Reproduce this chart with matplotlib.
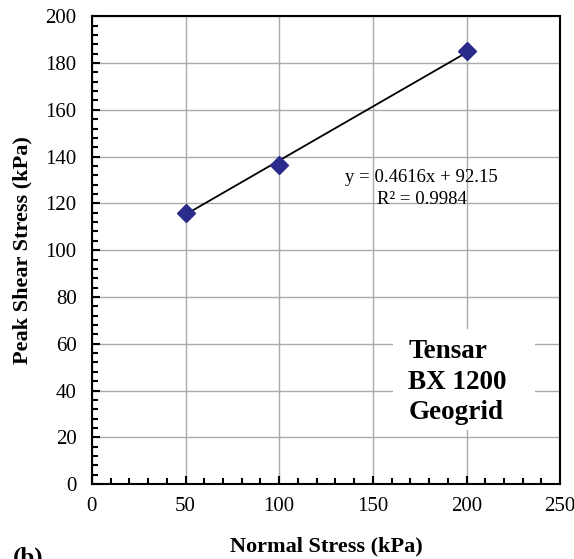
import matplotlib
matplotlib.use("Agg")
import matplotlib.pyplot as plt
import numpy as np
from matplotlib.ticker import MultipleLocator
from matplotlib.patches import Rectangle

normal_stress = [50, 100, 200]
peak_shear = [116, 136.5, 185]
slope = 0.4616
intercept = 92.15
x_ticks = [0, 50, 100, 150, 200, 250]
y_ticks = [0, 20, 40, 60, 80, 100, 120, 140, 160, 180, 200]

plt.rcParams['font.family'] = ['Liberation Serif', 'DejaVu Serif']

fig = plt.figure(figsize=(5.74, 5.59), dpi=100)
ax = fig.add_axes([0.160, 0.134, 0.816, 0.837])
ax.set_axisbelow(True)

ax.grid(True, color='#aaaaaa', linewidth=1.0, zorder=0)
xf = np.array([min(normal_stress), max(normal_stress)])
ax.plot(xf, slope * xf + intercept, color='black', linewidth=1.3, zorder=2)
ax.plot(normal_stress, peak_shear, linestyle='none', marker='D', markersize=9,
        color='#2b2b8c', markeredgecolor='#2b2b8c', zorder=3)

ax.set_xlim(0, 250)
ax.set_ylim(0, 200)
ax.set_xticks(x_ticks)
ax.set_yticks(y_ticks)
ax.xaxis.set_minor_locator(MultipleLocator(10))
ax.yaxis.set_minor_locator(MultipleLocator(4))
ax.tick_params(which='both', direction='in', labelsize=15, width=1.5)
ax.tick_params(which='major', length=6)
ax.tick_params(which='minor', length=4)
ax.tick_params(axis='x', pad=9)
ax.tick_params(axis='y', pad=11)
for s in ax.spines.values():
    s.set_linewidth(1.5)
    s.set_zorder(5)

ax.set_xlabel('Normal Stress (kPa)', fontsize=16, fontweight='bold', labelpad=15)
ax.set_ylabel('Peak Shear Stress (kPa)', fontsize=16, fontweight='bold', labelpad=9)

ax.text(176, 126.3, 'y = 0.4616x + 92.15\nR² = 0.9984', ha='center', va='center',
        fontsize=13.5, linespacing=1.4)

# white label box (covers grid behind the label)
ax.add_patch(Rectangle((161, 23), 75.5, 43.5, facecolor='white', edgecolor='none', zorder=1))
ax.text(169, 43.6, 'Tensar\nBX 1200\nGeogrid', ha='left', va='center',
        fontsize=19.5, fontweight='bold', linespacing=1.28, zorder=4)

fig.text(0.022, 0.022, '(b)', fontsize=18, fontweight='bold', ha='left', va='top')

fig.savefig('out.png', dpi=100)
